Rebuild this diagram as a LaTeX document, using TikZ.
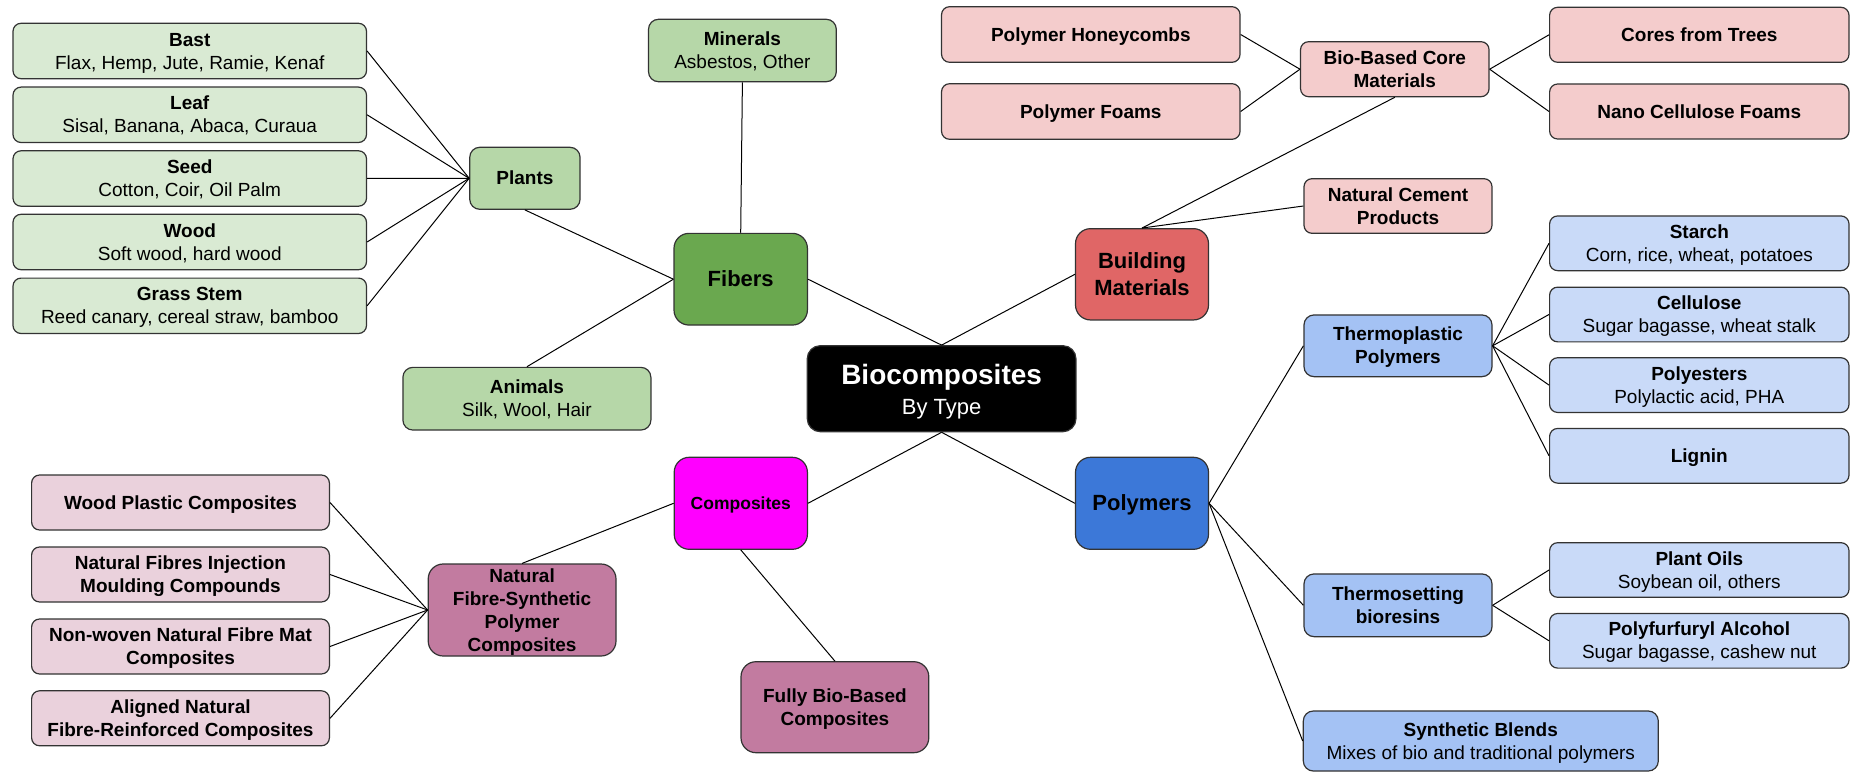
\documentclass[tikz,border=0pt]{standalone}
\usepackage{fontspec}
\setmainfont{Liberation Sans}
\definecolor{lgreen}{HTML}{D9EAD3}
\definecolor{mgreen}{HTML}{B6D7A8}
\definecolor{dgreen}{HTML}{6AA84F}
\definecolor{lred}{HTML}{F4CCCC}
\definecolor{dred}{HTML}{E06666}
\definecolor{lblue}{HTML}{C9DAF8}
\definecolor{mblue}{HTML}{A4C2F4}
\definecolor{dblue}{HTML}{3C78D8}
\definecolor{magent}{HTML}{FF00FF}
\definecolor{mpurple}{HTML}{C27BA0}
\definecolor{lpurple}{HTML}{EAD1DC}
\definecolor{bordc}{HTML}{333333}
\newcommand\nfont{\fontsize{19}{23}\selectfont}
\newcommand\bfont{\fontsize{22}{26.5}\selectfont\bfseries}
\newcommand\st{\rule[-0.212em]{0pt}{1.117em}}
\begin{document}
\begin{tikzpicture}[x=1pt,y=-1pt,
  box/.style={draw=bordc, line width=1.2pt, inner sep=0pt, align=center, text=black, font=\nfont},
  sm/.style={box, rounded corners=8pt},
  md/.style={box, rounded corners=10pt},
  bg/.style={box, rounded corners=15pt, font=\bfont},
  conn/.style={draw=black, line width=1pt}]
\useasboundingbox (0,0) rectangle (1858,773);
% ---- Fibers branch
\node[sm, fill=lgreen, minimum width=353.5pt, minimum height=55.4pt] (bast) at (189.75,51) {\st\textbf{Bast}\\\st Flax, Hemp, Jute, Ramie, Kenaf};
\node[sm, fill=lgreen, minimum width=353.5pt, minimum height=55.4pt] (leaf) at (189.75,114.8) {\st\textbf{Leaf}\\\st Sisal, Banana, Abaca, Curaua};
\node[sm, fill=lgreen, minimum width=353.5pt, minimum height=55.4pt] (seed) at (189.75,178.5) {\st\textbf{Seed}\\\st Cotton, Coir, Oil Palm};
\node[sm, fill=lgreen, minimum width=353.5pt, minimum height=55.4pt] (wood) at (189.75,242) {\st\textbf{Wood}\\\st Soft wood, hard wood};
\node[sm, fill=lgreen, minimum width=353.5pt, minimum height=55.4pt] (grass) at (189.75,305.8) {\st\textbf{Grass Stem}\\\st Reed canary, cereal straw, bamboo};
\node[md, fill=mgreen, minimum width=110.3pt, minimum height=62pt, font=\nfont\bfseries] (plants) at (524.9,178.3) {\st Plants};
\node[md, fill=mgreen, minimum width=187.8pt, minimum height=62.4pt] (minerals) at (742.4,50.5) {\st\textbf{Minerals}\\\st Asbestos, Other};
\node[bg, fill=dgreen, minimum width=133.4pt, minimum height=91.7pt] (fibers) at (740.7,279.2) {\st Fibers};
\node[md, fill=mgreen, minimum width=248pt, minimum height=62.7pt] (animals) at (526.9,398.7) {\st\textbf{Animals}\\\st Silk, Wool, Hair};
% ---- Center
\node[box, fill=black, text=white, rounded corners=13pt, minimum width=268.7pt, minimum height=86pt, font=\fontsize{22}{30}\selectfont] (bio) at (941.6,388.7) {{\fontsize{28}{30}\selectfont\bfseries\st Biocomposites}\\\st By Type};
% ---- Building materials
\node[bg, fill=dred, minimum width=133pt, minimum height=91.3pt] (building) at (1142,274.3) {\st Building\\\st Materials};
\node[sm, fill=lred, minimum width=298.5pt, minimum height=55.6pt, font=\nfont\bfseries] (honey) at (1090.8,34.5) {\st Polymer Honeycombs};
\node[sm, fill=lred, minimum width=298.5pt, minimum height=55.6pt, font=\nfont\bfseries] (foams) at (1090.8,111.5) {\st Polymer Foams};
\node[sm, fill=lred, minimum width=188.5pt, minimum height=55pt, font=\nfont\bfseries] (core) at (1394.8,69.2) {\st Bio-Based Core\\\st Materials};
\node[sm, fill=lred, minimum width=299.4pt, minimum height=55pt, font=\nfont\bfseries] (trees) at (1699.3,34.8) {\st Cores from Trees};
\node[sm, fill=lred, minimum width=299.4pt, minimum height=55pt, font=\nfont\bfseries] (nano) at (1699.3,111.5) {\st Nano Cellulose Foams};
\node[sm, fill=lred, minimum width=188pt, minimum height=54.6pt, font=\nfont\bfseries] (cement) at (1398,206) {\st Natural Cement\\\st Products};
% ---- Polymers
\node[bg, fill=dblue, minimum width=133pt, minimum height=92pt] (polymers) at (1142,503.3) {\st Polymers};
\node[md, fill=mblue, minimum width=188pt, minimum height=61.7pt, font=\nfont\bfseries] (thermoplastic) at (1398,345.8) {\st Thermoplastic\\\st Polymers};
\node[sm, fill=lblue, minimum width=299.4pt, minimum height=54.7pt] (starch) at (1699.3,243.3) {\st\textbf{Starch}\\\st Corn, rice, wheat, potatoes};
\node[sm, fill=lblue, minimum width=299.4pt, minimum height=54.7pt] (cellulose) at (1699.3,314.5) {\st\textbf{Cellulose}\\\st Sugar bagasse, wheat stalk};
\node[sm, fill=lblue, minimum width=299.4pt, minimum height=54.7pt] (polyesters) at (1699.3,385.1) {\st\textbf{Polyesters}\\\st Polylactic acid, PHA};
\node[sm, fill=lblue, minimum width=299.4pt, minimum height=54.7pt, font=\nfont\bfseries] (lignin) at (1699.3,455.8) {\st Lignin};
\node[md, fill=mblue, minimum width=188pt, minimum height=62.7pt, font=\nfont\bfseries] (thermosetting) at (1398,605.3) {\st Thermosetting\\\st bioresins};
\node[sm, fill=lblue, minimum width=299.4pt, minimum height=54.6pt] (plantoils) at (1699.3,570) {\st\textbf{Plant Oils}\\\st Soybean oil, others};
\node[sm, fill=lblue, minimum width=299.4pt, minimum height=54.6pt] (polyfurfuryl) at (1699.3,640.8) {\st\textbf{Polyfurfuryl Alcohol}\\\st Sugar bagasse, cashew nut};
\node[md, fill=mblue, minimum width=355pt, minimum height=60pt] (synthetic) at (1480.8,741) {\st\textbf{Synthetic Blends}\\\st Mixes of bio and traditional polymers};
% ---- Composites
\node[bg, fill=magent, minimum width=133.2pt, minimum height=92pt, font=\fontsize{17.5}{21}\selectfont\bfseries] (composites) at (740.8,503.3) {\st Composites};
\node[bg, fill=mpurple, minimum width=187.8pt, minimum height=91pt, font=\nfont\bfseries] (fullybio) at (834.9,707.2) {\st Fully Bio-Based\\\st Composites};
\node[bg, fill=mpurple, minimum width=187.8pt, minimum height=92pt, font=\nfont\bfseries] (nfs) at (522.1,610) {\st Natural\\\st Fibre-Synthetic\\\st Polymer\\\st Composites};
\node[sm, fill=lpurple, minimum width=297.8pt, minimum height=55pt, font=\nfont\bfseries] (wpc) at (180.5,502.5) {\st Wood Plastic Composites};
\node[sm, fill=lpurple, minimum width=297.8pt, minimum height=55pt, font=\nfont\bfseries] (nfi) at (180.5,574.5) {\st Natural Fibres Injection\\\st Moulding Compounds};
\node[sm, fill=lpurple, minimum width=297.8pt, minimum height=55pt, font=\nfont\bfseries] (nonwoven) at (180.5,646.5) {\st Non-woven Natural Fibre Mat\\\st Composites};
\node[sm, fill=lpurple, minimum width=297.8pt, minimum height=55pt, font=\nfont\bfseries] (aligned) at (180.5,718.3) {\st Aligned Natural\\\st Fibre-Reinforced Composites};
% ---- Connectors
\foreach \n in {bast,leaf,seed,wood,grass} \draw[conn] (\n.east) -- (plants.west);
\draw[conn] (plants.south) -- (fibers.west);
\draw[conn] (animals.north) -- (fibers.west);
\draw[conn] (minerals.south) -- (fibers.north);
\draw[conn] (fibers.east) -- (bio.north);
\draw[conn] (bio.north) -- (building.west);
\draw[conn] (building.north) -- (core.south);
\draw[conn] (building.north) -- (cement.west);
\draw[conn] (honey.east) -- (core.west);
\draw[conn] (foams.east) -- (core.west);
\draw[conn] (core.east) -- (trees.west);
\draw[conn] (core.east) -- (nano.west);
\draw[conn] (bio.south) -- (composites.east);
\draw[conn] (bio.south) -- (polymers.west);
\draw[conn] (composites.west) -- (nfs.north);
\draw[conn] (composites.south) -- (fullybio.north);
\foreach \n in {wpc,nfi,nonwoven,aligned} \draw[conn] (nfs.west) -- (\n.east);
\foreach \n in {thermoplastic,thermosetting,synthetic} \draw[conn] (polymers.east) -- (\n.west);
\foreach \n in {starch,cellulose,polyesters,lignin} \draw[conn] (thermoplastic.east) -- (\n.west);
\foreach \n in {plantoils,polyfurfuryl} \draw[conn] (thermosetting.east) -- (\n.west);
\end{tikzpicture}
\end{document}
